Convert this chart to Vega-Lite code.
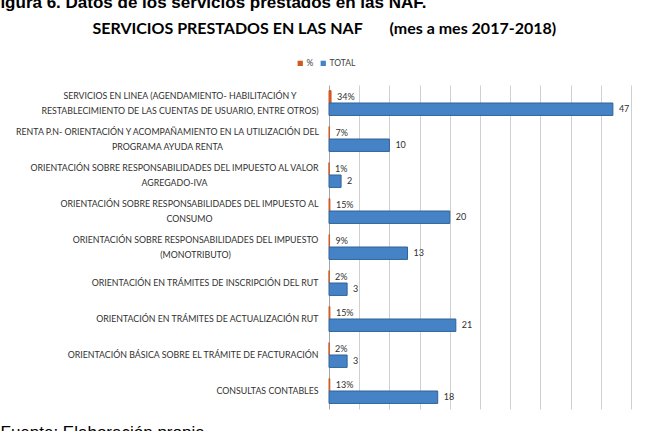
{
  "$schema": "https://vega.github.io/schema/vega-lite/v6.json",
  "width": 302,
  "height": 324,
  "autosize": {"type": "none"},
  "padding": {"left": 329, "top": 85, "right": 23, "bottom": 22},
  "background": "#ffffff",
  "config": {
    "view": {"stroke": null},
    "font": "Lato",
    "axis": {"labelFont": "Lato", "titleFont": "Lato"}
  },
  "data": {
    "values": [
      {"servicio": "SERVICIOS EN LINEA (AGENDAMIENTO- HABILITACIÓN Y|RESTABLECIMIENTO DE LAS CUENTAS DE USUARIO, ENTRE OTROS)", "serie": "%", "valor": 0.34},
      {"servicio": "SERVICIOS EN LINEA (AGENDAMIENTO- HABILITACIÓN Y|RESTABLECIMIENTO DE LAS CUENTAS DE USUARIO, ENTRE OTROS)", "serie": "TOTAL", "valor": 47},
      {"servicio": "RENTA P.N- ORIENTACIÓN Y ACOMPAÑAMIENTO EN LA UTILIZACIÓN DEL|PROGRAMA AYUDA RENTA", "serie": "%", "valor": 0.07},
      {"servicio": "RENTA P.N- ORIENTACIÓN Y ACOMPAÑAMIENTO EN LA UTILIZACIÓN DEL|PROGRAMA AYUDA RENTA", "serie": "TOTAL", "valor": 10},
      {"servicio": "ORIENTACIÓN SOBRE RESPONSABILIDADES DEL IMPUESTO AL VALOR|AGREGADO-IVA", "serie": "%", "valor": 0.01},
      {"servicio": "ORIENTACIÓN SOBRE RESPONSABILIDADES DEL IMPUESTO AL VALOR|AGREGADO-IVA", "serie": "TOTAL", "valor": 2},
      {"servicio": "ORIENTACIÓN SOBRE RESPONSABILIDADES DEL IMPUESTO AL|CONSUMO", "serie": "%", "valor": 0.15},
      {"servicio": "ORIENTACIÓN SOBRE RESPONSABILIDADES DEL IMPUESTO AL|CONSUMO", "serie": "TOTAL", "valor": 20},
      {"servicio": "ORIENTACIÓN SOBRE RESPONSABILIDADES DEL IMPUESTO|(MONOTRIBUTO)", "serie": "%", "valor": 0.09},
      {"servicio": "ORIENTACIÓN SOBRE RESPONSABILIDADES DEL IMPUESTO|(MONOTRIBUTO)", "serie": "TOTAL", "valor": 13},
      {"servicio": "ORIENTACIÓN EN TRÁMITES DE INSCRIPCIÓN  DEL RUT", "serie": "%", "valor": 0.02},
      {"servicio": "ORIENTACIÓN EN TRÁMITES DE INSCRIPCIÓN  DEL RUT", "serie": "TOTAL", "valor": 3},
      {"servicio": "ORIENTACIÓN EN TRÁMITES DE ACTUALIZACIÓN RUT", "serie": "%", "valor": 0.15},
      {"servicio": "ORIENTACIÓN EN TRÁMITES DE ACTUALIZACIÓN RUT", "serie": "TOTAL", "valor": 21},
      {"servicio": "ORIENTACIÓN BÁSICA SOBRE EL TRÁMITE DE FACTURACIÓN", "serie": "%", "valor": 0.02},
      {"servicio": "ORIENTACIÓN BÁSICA SOBRE EL TRÁMITE DE FACTURACIÓN", "serie": "TOTAL", "valor": 3},
      {"servicio": "CONSULTAS CONTABLES", "serie": "%", "valor": 0.13},
      {"servicio": "CONSULTAS CONTABLES", "serie": "TOTAL", "valor": 18}
    ]
  },
  "encoding": {
    "y": {
      "field": "servicio", "type": "nominal", "sort": null,
      "scale": {"paddingInner": 0.31, "paddingOuter": 0.155},
      "axis": {
        "title": "Figura 6. Datos de los servicios prestados en las NAF.",
        "titleAngle": 0, "titleX": -339.5, "titleY": -78,
        "titleAlign": "left", "titleBaseline": "alphabetic", "titleAnchor": null,
        "titleFont": "Liberation Sans", "titleFontSize": 17, "titleFontWeight": "bold", "titleColor": "#000000",
        "labelExpr": "split(datum.label, '|')",
        "labelAlign": {"condition": {"test": "indexof(datum.value, '|') >= 0", "value": "center"}, "value": "right"},
        "labelBaseline": "middle", "labelLineHeight": 15,
        "labelOffset": {"condition": {"test": "indexof(datum.value, '|') >= 0", "value": -7.5}, "value": 0},
        "labelPadding": {"expr": "indexof(datum.value, 'SERVICIOS EN LINEA') === 0 ? 149.5 : indexof(datum.value, 'RENTA P.N') === 0 ? 162 : indexof(datum.value, 'AL VALOR') >= 0 ? 155 : indexof(datum.value, 'CONSUMO') >= 0 ? 140 : indexof(datum.value, 'MONOTRIBUTO') >= 0 ? 134 : 11"},
        "labelFontSize": 8.8, "labelColor": "#303030", "labelLimit": 400,
        "ticks": false, "domainColor": "#a6a6a6", "domainWidth": 1, "grid": false
      }
    },
    "yOffset": {"field": "serie", "type": "nominal", "scale": {"domain": ["%", "TOTAL"], "paddingInner": 0}}
  },
  "layer": [
    {
      "mark": {"type": "bar", "strokeWidth": 1},
      "encoding": {
        "x": {
          "field": "valor", "type": "quantitative",
          "scale": {"domain": [0, 50], "nice": false},
          "axis": {
            "orient": "bottom",
            "values": [5, 10, 15, 20, 25, 30, 35, 40, 45, 50],
            "grid": true, "gridColor": "#d0d0d0", "gridWidth": 1,
            "labels": false, "ticks": false, "domain": false,
            "title": "Fuente: Elaboración propia",
            "titleX": -329, "titleY": 28, "titleAlign": "left", "titleBaseline": "alphabetic", "titleAnchor": null,
            "titleFont": "Liberation Sans", "titleFontSize": 17, "titleFontWeight": "normal", "titleColor": "#000000"
          }
        },
        "color": {
          "field": "serie", "type": "nominal",
          "scale": {"domain": ["%", "TOTAL"], "range": ["#cf5a24", "#4683c6"]},
          "legend": {
            "orient": "none", "legendX": -33, "legendY": -26, "direction": "horizontal",
            "title": null, "symbolType": "square", "symbolSize": 28, "symbolStrokeWidth": 0,
            "labelFont": "Lato", "labelFontSize": 8.5, "labelColor": "#404040", "labelOffset": 2,
            "columnPadding": 5, "padding": 0
          }
        },
        "stroke": {
          "field": "serie", "type": "nominal",
          "scale": {"domain": ["%", "TOTAL"], "range": ["#cf5a24", "#2e6399"]},
          "legend": null
        }
      }
    },
    {
      "transform": [{"filter": "datum.serie === '%'"}],
      "mark": {"type": "text", "align": "left", "baseline": "middle", "dx": 6, "font": "Lato", "fontSize": 9, "color": "#303030"},
      "encoding": {
        "x": {
          "field": "valor", "type": "quantitative",
          "axis": {
            "orient": "top", "labels": false, "ticks": false, "domain": false, "grid": false,
            "title": "SERVICIOS PRESTADOS EN LAS NAF\u00a0\u00a0\u00a0\u00a0\u00a0\u00a0\u00a0(mes a mes 2017-2018)",
            "titleX": -237, "titleY": -52, "titleAlign": "left", "titleBaseline": "alphabetic", "titleAnchor": null,
            "titleFont": "Lato", "titleFontSize": 16, "titleFontWeight": "bold", "titleColor": "#000000"
          }
        },
        "text": {"field": "valor", "type": "quantitative", "format": ".0%"}
      }
    },
    {
      "transform": [{"filter": "datum.serie === 'TOTAL'"}],
      "mark": {"type": "text", "align": "left", "baseline": "middle", "dx": 6, "font": "Lato", "fontSize": 9, "color": "#303030"},
      "encoding": {
        "x": {"field": "valor", "type": "quantitative", "axis": null},
        "text": {"field": "valor", "type": "quantitative", "format": "d"}
      }
    }
  ]
}
